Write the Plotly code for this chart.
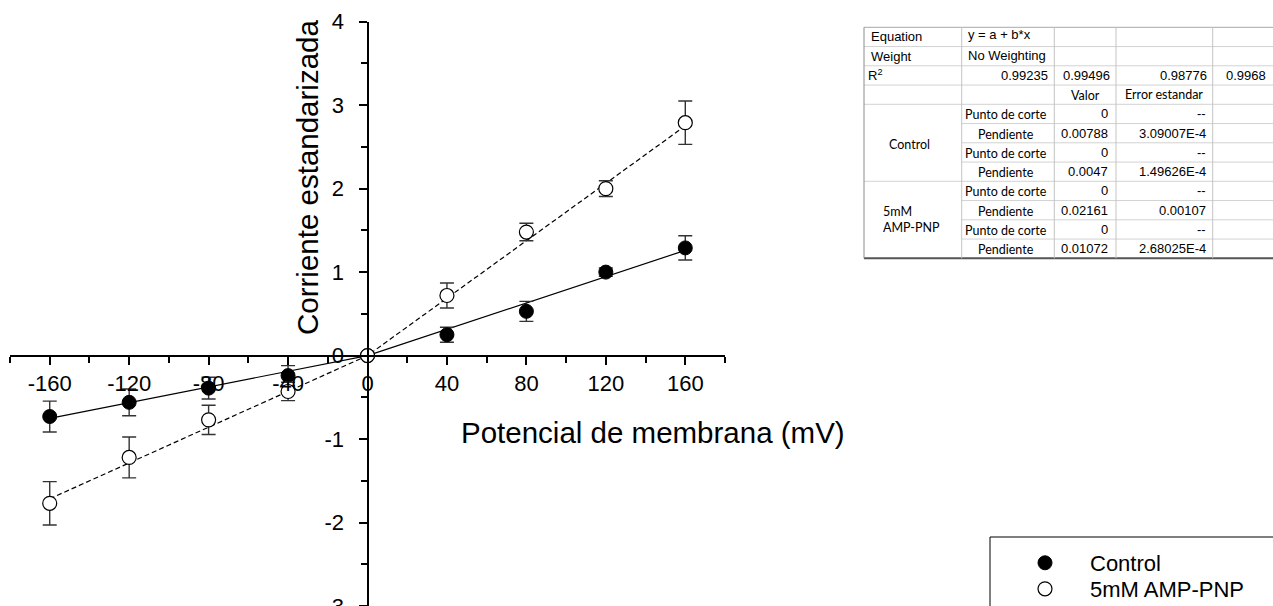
import plotly.graph_objects as go

# ---------------- data ----------------
voltages = [-160, -120, -80, -40, 0, 40, 80, 120, 160]
control = [-0.73, -0.56, -0.39, -0.24, 0.0, 0.25, 0.53, 1.00, 1.29]
control_err = [0.185, 0.16, 0.13, 0.12, 0.0, 0.09, 0.12, 0.05, 0.145]
amp = [-1.77, -1.22, -0.77, -0.43, 0.0, 0.72, 1.48, 2.00, 2.79]
amp_err = [0.26, 0.245, 0.175, 0.11, 0.0, 0.15, 0.105, 0.095, 0.26]

# fitted slopes through origin (negative branch, positive branch)
control_slopes = [0.0047, 0.00788]
amp_slopes = [0.01072, 0.0172]

series_names = ["Control", "5mM AMP-PNP"]
x_title = "Potencial de membrana (mV)"
y_title = "Corriente estandarizada"
x_tickvals = [-160, -120, -80, -40, 0, 40, 80, 120, 160]
x_ticktext = ["-160", "-120", "-80", "-40", "0", "40", "80", "120", "160"]
y_tickvals = [-3, -2, -1, 0, 1, 2, 3, 4]
y_ticktext = ["-3", "-2", "-1", "0", "1", "2", "3", "4"]

# results table
table_eq = ["Equation", "y = a + b*x"]
table_weight = ["Weight", "No Weighting"]
table_r2 = ["0.99235", "0.99496", "0.98776", "0.9968"]
table_header = ["Valor", "Error estandar"]
table_params = ["Punto de corte", "Pendiente", "Punto de corte", "Pendiente"]
table_groups = ["Control", "5mM<br>AMP-PNP"]
table_values = [["0", "0.00788", "0", "0.0047"], ["0", "0.02161", "0", "0.01072"]]
table_errors = [["--", "3.09007E-4", "--", "1.49626E-4"], ["--", "0.00107", "--", "2.68025E-4"]]

# ---------------- layout helpers ----------------
W, H = 1273, 606
def px(x):
    return x / W
def py(y):
    return 1 - y / H

FONT = "Liberation Sans, Arial, sans-serif"
CAL = "Lato, Carlito, sans-serif"

fig = go.Figure()

# fit lines
xmin, xmax = min(voltages), max(voltages)
for slopes, dash in [(control_slopes, "solid"), (amp_slopes, "5px,3px")]:
    xs = [xmin, 0, xmax]
    ys = [slopes[0] * xmin, 0, slopes[1] * xmax]
    fig.add_trace(go.Scatter(x=xs, y=ys, mode="lines",
                             line=dict(color="black", width=1.2, dash=dash),
                             showlegend=False, hoverinfo="skip"))

fig.add_trace(go.Scatter(
    x=voltages, y=control, mode="markers", name=series_names[0], legend="legend",
    marker=dict(symbol="circle", size=14, color="black", line=dict(color="black", width=1)),
    error_y=dict(type="data", array=control_err, color="#333333", thickness=1.4, width=7)))
fig.add_trace(go.Scatter(
    x=voltages, y=amp, mode="markers", name=series_names[1], legend="legend2",
    marker=dict(symbol="circle", size=14, color="white", line=dict(color="black", width=1.2)),
    error_y=dict(type="data", array=amp_err, color="#333333", thickness=1.4, width=7)))

x0p, x1p = 10, 725
ytop = 21.7
ydom = [0, py(ytop)]
yrange = [-3, 4]
xaxis_pos = ydom[1] * (0 - yrange[0]) / (yrange[1] - yrange[0])
yaxis_pos = (px(x0p) + px(x1p)) / 2

legend_style = dict(xanchor="left", yanchor="middle", bgcolor="rgba(0,0,0,0)", borderwidth=0,
                    itemwidth=80, font=dict(size=22, family=FONT, color="black"))

fig.update_layout(
    width=W, height=H,
    margin=dict(l=0, r=0, t=0, b=0, pad=0, autoexpand=False),
    paper_bgcolor="white", plot_bgcolor="rgba(0,0,0,0)",
    font=dict(family=FONT, color="black"),
    xaxis=dict(domain=[px(x0p), px(x1p)], range=[-180, 180], anchor="free", position=xaxis_pos,
               automargin=False,
               showgrid=False, zeroline=False, showline=True, linecolor="black", linewidth=2,
               ticks="outside", ticklen=8, tickwidth=2, tickcolor="black",
               tickmode="array", tickvals=x_tickvals, ticktext=x_ticktext,
               minor=dict(ticks="outside", tickmode="linear", tick0=0, dtick=20, ticklen=6,
                          tickwidth=2, tickcolor="black", showgrid=False),
               tickfont=dict(size=22, family=FONT, color="black")),
    yaxis=dict(domain=ydom, range=yrange, anchor="free", position=yaxis_pos,
               automargin=False, ticklabeloverflow="allow",
               showgrid=False, zeroline=False, showline=True, linecolor="black", linewidth=2,
               ticks="outside", ticklen=8, tickwidth=2, tickcolor="black",
               tickmode="array", tickvals=y_tickvals, ticktext=y_ticktext,
               minor=dict(ticks="outside", tickmode="linear", tick0=0, dtick=0.5, ticklen=6,
                          tickwidth=2, tickcolor="black", showgrid=False),
               tickfont=dict(size=22, family=FONT, color="black"), ticklabelstandoff=10),
    legend=dict(x=px(1000), y=py(563), **legend_style),
    legend2=dict(x=px(1000), y=py(589), **legend_style),
    showlegend=True,
)

annotations = []
shapes = []
# axis titles
annotations.append(dict(x=px(307.5), y=py(177.5), xref="paper", yref="paper", text=y_title,
                        showarrow=False, textangle=-90, xanchor="center", yanchor="middle",
                        font=dict(size=29.5, family=FONT, color="black")))
annotations.append(dict(x=px(653), y=py(432), xref="paper", yref="paper", text=x_title,
                        showarrow=False, xanchor="center", yanchor="middle",
                        font=dict(size=29.5, family=FONT, color="black")))

# legend box
shapes.append(dict(type="rect", xref="paper", yref="paper", x0=px(990), x1=px(1290),
                   y0=py(537), y1=py(620), line=dict(color="black", width=1)))

# ---------------- table ----------------
cols = [864, 961.7, 1054.3, 1116, 1212.7, 1300]
r0, rh = 27.3, 19.25
rows = [r0 + i * rh for i in range(13)]
light = "#d2d2d2"

def hline(y, xa, xb, color=light, w=1):
    shapes.append(dict(type="line", xref="paper", yref="paper", x0=px(xa), x1=px(xb),
                       y0=py(y), y1=py(y), line=dict(color=color, width=w)))

def vline(x, ya, yb, color=light, w=1):
    shapes.append(dict(type="line", xref="paper", yref="paper", x0=px(x), x1=px(x),
                       y0=py(ya), y1=py(yb), line=dict(color=color, width=w)))

for i, y in enumerate(rows):
    if i == 0:
        hline(y, cols[0], cols[-1], "#a8a8a8")
    elif i == 12:
        hline(y, cols[0], cols[-1], "#555555", 2)
    elif i in (5, 6, 7, 9, 10, 11):
        hline(y, cols[1], cols[-1])
    else:
        hline(y, cols[0], cols[-1])
vline(cols[0], rows[0], rows[12], "#8c8c8c")
for c in cols[1:5]:
    vline(c, rows[0], rows[12], "#c4c4c4")

def cell_text(text, x, y, anchor, size=13, family=FONT):
    annotations.append(dict(x=px(x), y=py(y), xref="paper", yref="paper", text=text,
                            showarrow=False, xanchor=anchor, yanchor="middle",
                            font=dict(size=size, family=family, color="black")))

def rc(i):
    return rows[i] + rh / 2

cell_text(table_eq[0], 869, rc(0), "left")
cell_text(table_eq[1], 966, rc(0) - 2, "left")
cell_text(table_weight[0], 869, rc(1), "left")
cell_text(table_weight[1], 966, rc(1) - 1, "left")
cell_text("R<sup>2</sup>", 866, rc(2), "left")
for k, v in enumerate(table_r2):
    cell_text(v, cols[k + 2] - 4 if k < 3 else 1268, rc(2), "right")
cell_text(table_header[0], (cols[2] + cols[3]) / 2, rc(3) + 1, "center", 12.5, CAL)
cell_text(table_header[1], (cols[3] + cols[4]) / 2, rc(3), "center", 12.5, CAL)
for g in range(2):
    for j in range(4):
        i = 4 + g * 4 + j
        cell_text(table_params[j], (cols[1] + cols[2]) / 2 - 2, rc(i) + 1, "center", 12.5, CAL)
        cell_text(table_values[g][j], cols[3] - 6, rc(i), "right")
        cell_text(table_errors[g][j], cols[4] - 5, rc(i), "right")
annotations.append(dict(x=px((cols[0] + cols[1]) / 2 - 3), y=py(144), xref="paper", yref="paper",
                        text=table_groups[0], showarrow=False, xanchor="center", yanchor="middle",
                        font=dict(size=12.5, family=CAL, color="black")))
annotations.append(dict(x=px(881), y=py(220), xref="paper", yref="paper",
                        text=table_groups[1], showarrow=False, xanchor="left", yanchor="middle",
                        align="left", font=dict(size=12.5, family=CAL, color="black")))

fig.update_layout(annotations=annotations, shapes=shapes)
fig.write_html("out.html", config={"displayModeBar": False},
               post_script="document.body.style.margin='0';document.body.style.overflow='hidden';")
